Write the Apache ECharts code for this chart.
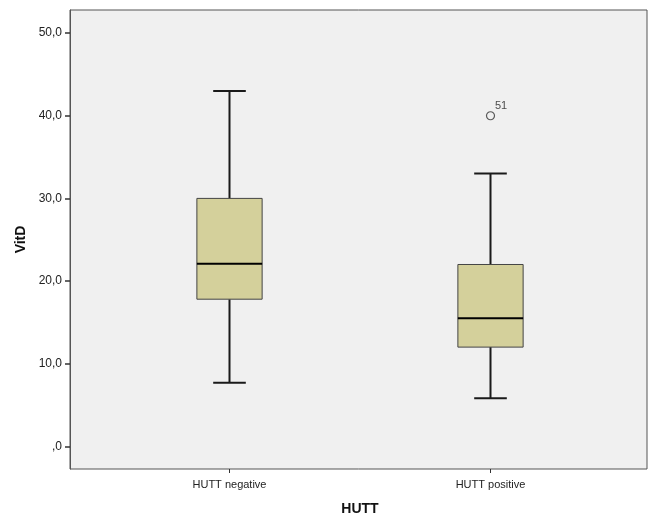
<!DOCTYPE html>
<html>
<head>
<meta charset="utf-8">
<script src="https://cdn.jsdelivr.net/npm/echarts@6/dist/echarts.min.js"></script>
<style>html,body{margin:0;padding:0;background:#fff}#c{width:652px;height:515px}</style>
</head>
<body>
<div id="c"></div>
<script>
var categories = ['HUTT negative', 'HUTT positive'];
// [lowerWhisker, Q1, median, Q3, upperWhisker]
var boxValues = [
  [7.7, 17.8, 22.1, 30.0, 43.0],
  [5.8, 12.0, 15.5, 22.0, 33.0]
];
var outliers = [[1, 40.0, '51']];
var yTicks = [0, 10, 20, 30, 40, 50];
var yMin = -2.75, yMax = 52.8;

var chart = echarts.init(document.getElementById('c'));
var font = 'Liberation Sans, Arial, sans-serif';
chart.setOption({
  backgroundColor: '#ffffff',
  animation: false,
  grid: [
    {left: 70, right: 5, top: 10, bottom: 46, outerBoundsMode: 'none', containLabel: false, show: true, backgroundColor: '#f0f0f0', borderColor: '#555', borderWidth: 1},
    {left: 99, right: 31, top: 10, bottom: 46, outerBoundsMode: 'none', containLabel: false}
  ],
  xAxis: [
    {gridIndex: 0, type: 'value', min: 0, max: 1, show: false},
    {gridIndex: 1, type: 'category', data: categories,
     axisLine: {show: false, onZero: false},
     axisTick: {show: true, alignWithLabel: true, length: 4, lineStyle: {color: '#333'}},
     axisLabel: {color: '#222', fontFamily: font, fontSize: 11, margin: 10},
     name: 'HUTT', nameLocation: 'middle', nameGap: 33,
     nameTextStyle: {fontFamily: font, fontSize: 14, fontWeight: 'bold', color: '#111'}
    }
  ],
  yAxis: [
    {gridIndex: 0, type: 'value', min: yMin, max: yMax,
     axisLine: {show: true, lineStyle: {color: '#555'}},
     axisTick: {show: true, length: 5, customValues: yTicks, lineStyle: {color: '#333', width: 1.5}},
     axisLabel: {customValues: yTicks, color: '#222', fontFamily: font, fontSize: 12, margin: 8,
       formatter: function (v) { return v === 0 ? ',0' : v.toFixed(1).replace('.', ','); }},
     splitLine: {show: false},
     name: 'VitD', nameLocation: 'middle', nameGap: 40,
     nameTextStyle: {fontFamily: font, fontSize: 14, fontWeight: 'bold', color: '#111'}
    },
    {gridIndex: 1, type: 'value', min: yMin, max: yMax, show: false}
  ],
  series: [
    {
      type: 'custom', xAxisIndex: 1, yAxisIndex: 1,
      data: boxValues.map(function (b, i) { return [i].concat(b); }),
      renderItem: function (params, api) {
        var x = api.value(0);
        var band = api.size([1, 0])[0];
        var half = band * 0.125;
        var cap = half / 2;
        var pLow = api.coord([x, api.value(1)]);
        var pQ1 = api.coord([x, api.value(2)]);
        var pMed = api.coord([x, api.value(3)]);
        var pQ3 = api.coord([x, api.value(4)]);
        var pHigh = api.coord([x, api.value(5)]);
        var cx = pLow[0];
        var ls = {stroke: '#1a1a1a', lineWidth: 2};
        return {type: 'group', children: [
          {type: 'line', shape: {x1: cx, y1: pQ3[1], x2: cx, y2: pHigh[1]}, style: ls},
          {type: 'line', shape: {x1: cx, y1: pQ1[1], x2: cx, y2: pLow[1]}, style: ls},
          {type: 'line', shape: {x1: cx - cap, y1: pHigh[1], x2: cx + cap, y2: pHigh[1]}, style: ls},
          {type: 'line', shape: {x1: cx - cap, y1: pLow[1], x2: cx + cap, y2: pLow[1]}, style: ls},
          {type: 'rect', shape: {x: cx - half, y: pQ3[1], width: half * 2, height: pQ1[1] - pQ3[1]},
           style: {fill: '#d4d09b', stroke: '#444', lineWidth: 1}},
          {type: 'line', shape: {x1: cx - half, y1: pMed[1], x2: cx + half, y2: pMed[1]}, style: {stroke: '#000', lineWidth: 2}}
        ]};
      }
    },
    {
      type: 'scatter', xAxisIndex: 1, yAxisIndex: 1,
      data: outliers.map(function (o) { return [o[0], o[1], o[2]]; }),
      symbol: 'circle', symbolSize: 8,
      itemStyle: {color: 'rgba(0,0,0,0)', borderColor: '#333', borderWidth: 1.2},
      label: {show: true, position: [9, -11], formatter: function (p) { return p.value[2]; },
        fontFamily: font, fontSize: 11, color: '#222'}
    }
  ]
});
</script>
</body>
</html>
